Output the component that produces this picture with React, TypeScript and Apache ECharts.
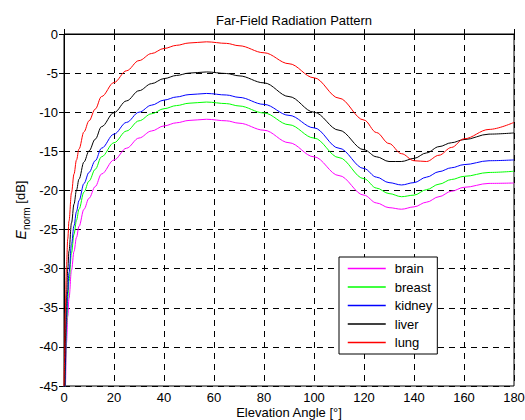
import React, { useEffect, useRef } from 'react';
import * as echarts from 'echarts';

const angles = [0, 0.25, 0.5, 1, 1.5, 2, 3, 4, 5, 6, 8, 10, 12.5, 15, 20, 25, 30, 35, 40, 45, 50, 57, 65, 70, 80, 90, 100, 110, 120, 125, 130, 135, 140, 145, 150, 155, 160, 170, 180];

const brain = [-45, -51.6, -45.6, -39.5, -36.1, -33.8, -30.2, -27.8, -26.0, -24.6, -22.4, -21.0, -19.5, -17.9, -16.1, -14.6, -13.3, -12.4, -11.75, -11.35, -11.05, -10.9, -11.1, -11.4, -12.3, -13.9, -15.7, -18.1, -20.6, -21.6, -22.2, -22.4, -22.1, -21.5, -20.8, -20.1, -19.6, -19.1, -19.05];
const breast = [-45, -49.4, -43.4, -37.3, -33.9, -31.6, -28.0, -25.6, -23.8, -22.4, -20.2, -18.8, -17.3, -15.7, -13.9, -12.4, -11.1, -10.2, -9.55, -9.15, -8.85, -8.7, -8.9, -9.2, -10.1, -11.6, -13.3, -15.8, -18.5, -19.7, -20.4, -20.8, -20.6, -19.9, -19.2, -18.6, -18.2, -17.7, -17.55];
const kidney = [-45, -48.3, -42.3, -36.2, -32.8, -30.5, -26.9, -24.5, -22.7, -21.3, -19.1, -17.7, -16.2, -14.6, -12.8, -11.3, -10.0, -9.1, -8.45, -8.05, -7.75, -7.6, -7.8, -8.1, -9.0, -10.4, -12.0, -14.6, -17.2, -18.3, -19.0, -19.3, -19.0, -18.3, -17.6, -17.1, -16.7, -16.2, -16.1];
const liver = [-45, -45.5, -39.55, -33.45, -30.05, -27.75, -24.15, -21.75, -19.95, -18.55, -16.35, -14.95, -13.45, -11.85, -10.05, -8.55, -7.25, -6.35, -5.7, -5.3, -5.0, -4.85, -5.05, -5.35, -6.25, -8.0, -10.0, -12.3, -14.8, -15.7, -16.3, -16.3, -15.9, -15.2, -14.4, -13.9, -13.5, -12.8, -12.65];
const lung = [-45, -41.7, -35.7, -29.6, -26.2, -23.9, -20.3, -17.9, -16.1, -14.7, -12.5, -11.1, -9.6, -8.0, -6.2, -4.7, -3.4, -2.5, -1.85, -1.45, -1.15, -1.0, -1.2, -1.5, -2.4, -3.8, -5.6, -8.2, -11.0, -12.6, -14.0, -15.3, -16.2, -16.3, -15.5, -14.5, -13.4, -12.2, -11.3];

const seriesNames = ['brain', 'breast', 'kidney', 'liver', 'lung'];
const seriesValues = [brain, breast, kidney, liver, lung];
const seriesColors = ['#ff00ff', '#00ff00', '#0000ff', '#000000', '#ff0000'];

const FONT = 'Arial, "Liberation Sans", Helvetica, sans-serif';

export default function App() {
  const ref = useRef<HTMLDivElement>(null);
  useEffect(() => {
    const chart = echarts.init(ref.current!, null, { renderer: 'svg' });
    const dash = { color: '#000', width: 1, type: [6, 5] as any };
    chart.setOption({
      animation: false,
      backgroundColor: '#fff',
      textStyle: { fontFamily: FONT },
      title: {
        text: 'Far-Field Radiation Pattern',
        left: 289,
        top: 9,
        textAlign: 'center',
        textStyle: { fontSize: 13, fontWeight: 'normal', color: '#000', fontFamily: FONT },
      },
      grid: {
        left: 64, right: 11, top: 34, bottom: 34,
        containLabel: false,
        outerBoundsMode: 'none',
        show: true, borderColor: '#000', borderWidth: 1, backgroundColor: 'transparent',
      },
      legend: {
        data: seriesNames,
        orient: 'vertical',
        left: 339,
        top: 257,
        itemWidth: 38,
        itemHeight: 14,
        itemGap: 5.5,
        padding: [5, 5, 5, 8],
        backgroundColor: '#fff',
        borderColor: '#000',
        borderWidth: 1,
        borderRadius: 0,
        itemStyle: { opacity: 0 },
        lineStyle: { width: 1.5 },
        textStyle: { fontSize: 13, color: '#000', fontFamily: FONT, padding: [0, 0, 0, 4] },
      },
      xAxis: [
        {
          type: 'value', min: 0, max: 180, interval: 20,
          name: 'Elevation Angle [°]', nameLocation: 'middle', nameGap: 19,
          nameMoveOverlap: false,
          nameTextStyle: { fontSize: 13, color: '#000', fontFamily: FONT, lineHeight: 14 },
          axisLine: { show: true, lineStyle: { color: '#000', width: 1 } },
          axisTick: { show: true, inside: true, length: 5, lineStyle: { color: '#000' } },
          axisLabel: { fontSize: 13, color: '#000', margin: 5, fontFamily: FONT, hideOverlap: false },
          splitLine: { show: true, lineStyle: dash },
        },
        {
          type: 'value', min: 0, max: 180, interval: 20, position: 'top',
          axisLine: { show: true, lineStyle: { color: '#000', width: 1 } },
          axisTick: { show: true, inside: true, length: 5, lineStyle: { color: '#000' } },
          axisLabel: { show: false },
          splitLine: { show: false },
        },
      ],
      yAxis: [
        {
          type: 'value', min: -45, max: 0, interval: 5,
          name: '{e|E}{s|norm} [dB]', nameLocation: 'middle', nameGap: 36, nameRotate: 90,
          nameMoveOverlap: false,
          nameTextStyle: {
            fontSize: 13, color: '#000', fontFamily: FONT,
            rich: {
              e: { fontSize: 14, fontStyle: 'italic', color: '#000', fontFamily: FONT, verticalAlign: 'bottom', lineHeight: 16 },
              s: { fontSize: 10, color: '#000', fontFamily: FONT, verticalAlign: 'bottom', lineHeight: 10, padding: [0, 0, -3, 0] },
            },
          },
          axisLine: { show: true, lineStyle: { color: '#000', width: 1 } },
          axisTick: { show: true, inside: true, length: 5, lineStyle: { color: '#000' } },
          axisLabel: { fontSize: 13, color: '#000', margin: 6, fontFamily: FONT },
          splitLine: { show: true, lineStyle: dash },
        },
        {
          type: 'value', min: -45, max: 0, interval: 5, position: 'right',
          axisLine: { show: true, lineStyle: { color: '#000', width: 1 } },
          axisTick: { show: true, inside: true, length: 5, lineStyle: { color: '#000' } },
          axisLabel: { show: false },
          splitLine: { show: false },
        },
      ],
      series: seriesNames.map((name, k) => ({
        name,
        type: 'line',
        xAxisIndex: 0,
        yAxisIndex: 0,
        data: angles.map((a, i) => [a, seriesValues[k][i]]),
        symbol: 'none',
        showSymbol: false,
        smooth: 0.35,
        smoothMonotone: 'x',
        clip: true,
        color: seriesColors[k],
        lineStyle: { color: seriesColors[k], width: 1 },
      })),
    });
    return () => chart.dispose();
  }, []);
  return <div ref={ref} style={{ position: 'fixed', left: 0, top: 0, width: 525, height: 420, background: '#fff' }} />;
}
